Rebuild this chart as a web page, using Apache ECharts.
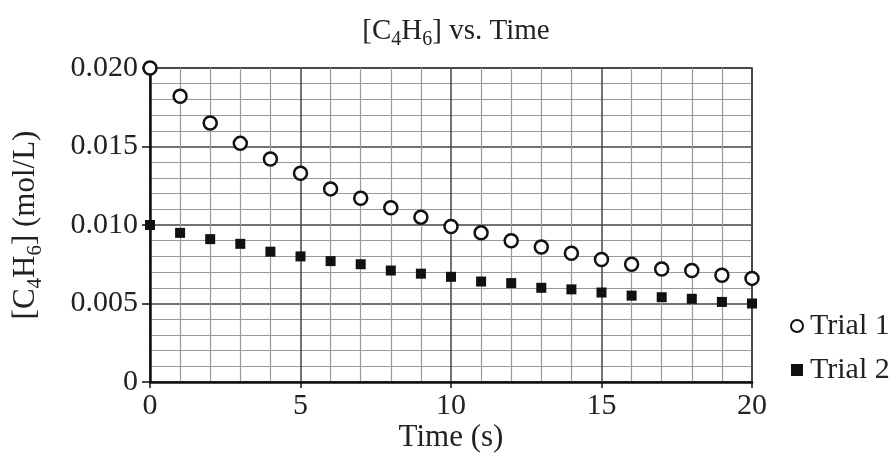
<!DOCTYPE html>
<html>
<head>
<meta charset="utf-8">
<script src="https://cdn.jsdelivr.net/npm/echarts@6/dist/echarts.min.js"></script>
<style>html,body{margin:0;padding:0;background:#fff}#c{width:896px;height:457px}</style>
</head>
<body>
<div id="c"></div>
<script>
const times = [0,1,2,3,4,5,6,7,8,9,10,11,12,13,14,15,16,17,18,19,20];
const trial1 = [0.0200,0.0182,0.0165,0.0152,0.0142,0.0133,0.0123,0.0117,0.0111,0.0105,0.0099,0.0095,0.0090,0.0086,0.0082,0.0078,0.0075,0.0072,0.0071,0.0068,0.0066];
const trial2 = [0.0100,0.0095,0.0091,0.0088,0.0083,0.0080,0.0077,0.0075,0.0071,0.0069,0.0067,0.0064,0.0063,0.0060,0.0059,0.0057,0.0055,0.0054,0.0053,0.0051,0.0050];
const yTickLabels = ['0','0.005','0.010','0.015','0.020'];
const xTickLabels = ['0','5','10','15','20'];

const font = 'Liberation Serif';
const chart = echarts.init(document.getElementById('c'));
function richSet(size) {
  return {
    m: {fontSize: size, fontFamily: font, color: '#222', fontWeight: 'normal'},
    s: {fontSize: Math.round(size * 0.68), fontFamily: font, color: '#222', fontWeight: 'normal', padding: [Math.round(size * 0.6),0,0,0]}
  };
}
chart.setOption({
  animation: false,
  title: {
    text: '{m|[C}{s|4}{m|H}{s|6}{m|] vs. Time}',
    left: 451, textAlign: 'center', top: 8,
    textStyle: {rich: richSet(29)}
  },
  legend: {
    orient: 'vertical', left: 785, top: 306, itemGap: 14,
    itemWidth: 12, itemHeight: 12,
    textStyle: {fontFamily: font, fontSize: 30, color: '#222', padding: [0,0,0,2]},
    data: [{name: 'Trial 1', icon: 'circle'}, {name: 'Trial 2', icon: 'rect'}]
  },
  grid: {left: 150, right: 144, top: 68, bottom: 75, containLabel: false, outerBoundsMode: 'none',
    show: true, borderColor: '#222', borderWidth: 1.5},
  xAxis: {
    type: 'value', min: 0, max: 20, interval: 5,
    name: 'Time (s)', nameLocation: 'middle', nameGap: 40, nameMoveOverlap: false,
    nameTextStyle: {fontFamily: font, fontSize: 31, color: '#222'},
    axisLine: {onZero: false, lineStyle: {color: '#111', width: 2.5}},
    axisTick: {show: true, length: 6, lineStyle: {color: '#111', width: 1.5}},
    axisLabel: {fontFamily: font, fontSize: 30, color: '#222', margin: 9,
      formatter: v => xTickLabels[Math.round(v / 5)]},
    splitLine: {show: true, lineStyle: {color: '#444', width: 1.5}},
    minorTick: {show: false, splitNumber: 5},
    minorSplitLine: {show: true, lineStyle: {color: '#999', width: 1.2}}
  },
  yAxis: {
    type: 'value', min: 0, max: 0.02, interval: 0.005,
    name: '{m|[C}{s|4}{m|H}{s|6}{m|] (mol/L)}', nameLocation: 'middle', nameGap: 104,
    nameTextStyle: {rich: richSet(31)},
    axisLine: {show: true, onZero: false, lineStyle: {color: '#111', width: 2.5}},
    axisTick: {show: true, length: 8, lineStyle: {color: '#111', width: 1.5}},
    axisLabel: {fontFamily: font, fontSize: 30, color: '#222', margin: 12,
      formatter: v => yTickLabels[Math.round(v / 0.005)]},
    splitLine: {show: true, lineStyle: {color: '#444', width: 1.5}},
    minorTick: {show: false, splitNumber: 5},
    minorSplitLine: {show: true, lineStyle: {color: '#999', width: 1.2}}
  },
  series: [
    {name: 'Trial 1', type: 'scatter', symbol: 'circle', symbolSize: 13, clip: false, z: 5,
     itemStyle: {color: '#fff', borderColor: '#111', borderWidth: 2.5, opacity: 1},
     data: times.map((t, i) => [t, trial1[i]])},
    {name: 'Trial 2', type: 'scatter', symbol: 'rect', symbolSize: 10, clip: false, z: 5,
     itemStyle: {color: '#111', opacity: 1},
     data: times.map((t, i) => [t, trial2[i]])}
  ]
});
</script>
</body>
</html>
